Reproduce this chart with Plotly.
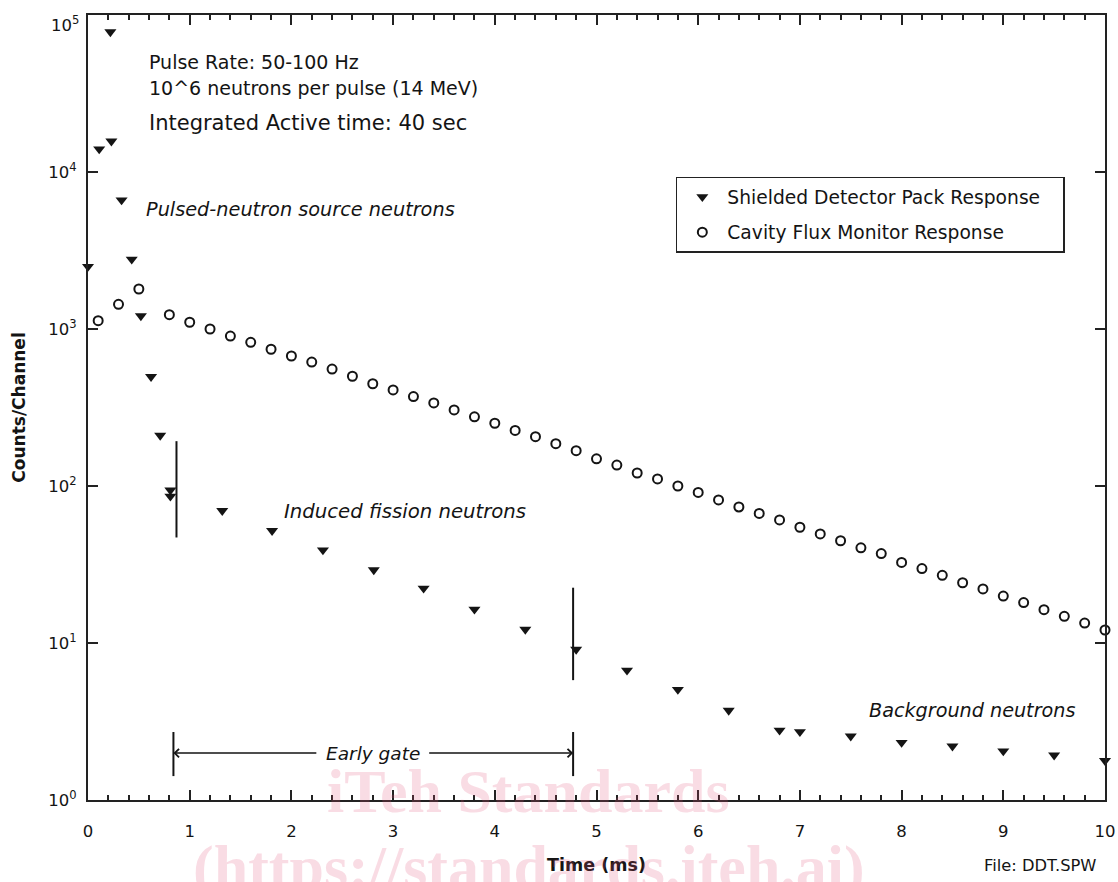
import math
import plotly.graph_objects as go

# ---------------- data ----------------
# Shielded Detector Pack Response (filled down-triangles)
det_time = [0.0, 0.11, 0.22, 0.23, 0.33, 0.43, 0.52, 0.62, 0.71, 0.81, 0.81,
            1.32, 1.81, 2.31, 2.81, 3.30, 3.80, 4.30, 4.80, 5.30, 5.80, 6.30,
            6.80, 7.00, 7.50, 8.00, 8.50, 9.00, 9.50, 10.0]
det_counts = [2500, 14000, 78000, 15700, 6630, 2780, 1210, 497, 210, 94, 86,
              69.6, 51.9, 39.1, 29.2, 22.3, 16.4, 12.2, 9.1, 6.7, 5.05, 3.72,
              2.78, 2.72, 2.55, 2.32, 2.20, 2.05, 1.93, 1.78]

# Cavity Flux Monitor Response (open circles)
flux_time = [0.1, 0.3, 0.5, 0.8, 1.0, 1.2, 1.4, 1.6, 1.8, 2.0, 2.2, 2.4, 2.6,
             2.8, 3.0, 3.2, 3.4, 3.6, 3.8, 4.0, 4.2, 4.4, 4.6, 4.8, 5.0, 5.2,
             5.4, 5.6, 5.8, 6.0, 6.2, 6.4, 6.6, 6.8, 7.0, 7.2, 7.4, 7.6, 7.8,
             8.0, 8.2, 8.4, 8.6, 8.8, 9.0, 9.2, 9.4, 9.6, 9.8, 10.0]
flux_counts = [1130, 1436, 1798, 1233, 1104, 1000, 902, 823, 743, 673, 616,
               556, 500, 448, 409, 371, 338, 305, 276, 251, 226, 206, 186, 168,
               149, 136, 121, 111, 100, 91, 81.5, 73.5, 66.9, 60.8, 54.6, 49.5,
               44.8, 40.4, 37.1, 32.6, 29.8, 27.0, 24.2, 22.1, 19.9, 18.1, 16.3,
               14.8, 13.4, 12.1]

series_names = ["Shielded Detector Pack Response", "Cavity Flux Monitor Response"]

y_tickvals = [1, 10, 100, 1000, 10000, 100000]
y_ticktext = ["10<sup>0</sup>", "10<sup>1</sup>", "10<sup>2</sup>",
              "10<sup>3</sup>", "10<sup>4</sup>", "10<sup>5</sup>"]

# gate markers (time in ms, counts)
gate_start, gate_end = 0.85, 4.77
gate_bar_low, gate_bar_high = 1.42, 2.71
gate_arrow_level = 1.99

FONT = "DejaVu Sans"
INK = "#141414"
NBSP = "\u00a0"
TICK_SIZE = 16.5

fig = go.Figure()

fig.add_trace(go.Scatter(
    x=det_time, y=det_counts, mode="markers",
    name=series_names[0] + NBSP * 3,
    legendgroup="det", cliponaxis=False, hoverinfo="x+y",
    marker=dict(symbol="triangle-down", size=10.5, color=INK, line=dict(width=0)),
))
fig.add_trace(go.Scatter(
    x=flux_time, y=flux_counts, mode="markers", name=series_names[1],
    legendgroup="flux", cliponaxis=False, hoverinfo="x+y",
    marker=dict(symbol="circle-open", size=9, color=INK, line=dict(width=2, color=INK)),
))

# vertical gate lines
gate_lines = [
    (0.87, 47, 193),
    (gate_end, 5.8, 22.5),
    (gate_start - 0.01, gate_bar_low, gate_bar_high),
    (gate_end, gate_bar_low, gate_bar_high),
]
for gx, gy0, gy1 in gate_lines:
    fig.add_trace(go.Scatter(
        x=[gx, gx], y=[gy0, gy1], mode="lines", showlegend=False,
        hoverinfo="skip", line=dict(color=INK, width=2),
    ))

L = math.log10
annotations = []

# watermark
annotations.append(dict(
    text="<b>iTeh Standards</b>", xref="paper", yref="paper", x=0.433, y=0.012,
    xanchor="center", yanchor="middle", showarrow=False,
    font=dict(family="Liberation Serif", size=62, color="rgba(225,80,120,0.2)"),
))
annotations.append(dict(
    text="<b>(https://standards.iteh.ai)</b>", xref="paper", yref="paper",
    x=0.434, y=-0.086, xanchor="center", yanchor="middle", showarrow=False,
    font=dict(family="Liberation Serif", size=62, color="rgba(225,80,120,0.2)"),
))

# top decade label sits just below its tick (as in the reference), so it is
# written next to the axis instead of as a centred tick label
annotations.append(dict(
    text=y_ticktext[-1], xref="paper", yref="y", x=0, y=L(y_tickvals[-1]),
    xanchor="right", yanchor="middle", xshift=-7, yshift=-9, showarrow=False,
    font=dict(family=FONT, size=TICK_SIZE, color=INK),
))

# text notes
def note(text, x, yval, size, italic=False, xanchor="left"):
    if italic:
        text = "<i>" + text + "</i>"
    annotations.append(dict(
        text=text, x=x, y=L(yval), xref="x", yref="y", xanchor=xanchor,
        yanchor="middle", showarrow=False,
        font=dict(family=FONT, size=size, color=INK),
    ))

note("Pulse Rate: 50-100 Hz", 0.58, 50500, 19)
note("10^6 neutrons per pulse (14 MeV)", 0.58, 34400, 19)
note("Integrated Active time: 40 sec", 0.58, 20400, 21)
note("Pulsed-neutron source neutrons", 0.55, 5730, 19.3, italic=True)
note("Induced fission neutrons", 1.91, 68.6, 19.7, italic=True)
note("Background neutrons", 7.66, 3.69, 19.2, italic=True)
note("Early gate", 2.80, gate_arrow_level, 18.5, italic=True, xanchor="center")

# early gate arrows
for head, tail in [(gate_start - 0.01, 2.26), (gate_end, 3.34)]:
    annotations.append(dict(
        x=head, y=L(gate_arrow_level), ax=tail, ay=L(gate_arrow_level),
        xref="x", yref="y", axref="x", ayref="y", text="", showarrow=True,
        arrowhead=4, arrowsize=1.1, arrowwidth=1.5, arrowcolor=INK, standoff=0,
    ))

annotations.append(dict(
    text="File: DDT.SPW", xref="paper", yref="paper", x=0.993, y=-0.084,
    xanchor="right", yanchor="middle", showarrow=False,
    font=dict(family=FONT, size=16.3, color=INK),
))

axis_common = dict(
    showline=True, linewidth=2, linecolor="#222", mirror="ticks",
    ticks="inside", ticklen=10, tickwidth=2, tickcolor="#222",
    showgrid=False, zeroline=False, automargin=False,
)

fig.update_xaxes(
    range=[0, 10], tick0=0, dtick=1,
    minor=dict(dtick=0.2, ticks="inside", ticklen=5, tickwidth=1.5,
               tickcolor="#222", showgrid=False),
    tickfont=dict(family=FONT, size=TICK_SIZE, color=INK), ticklabelstandoff=15,
    ticklabeloverflow="allow",
    title=dict(text="<b>Time (ms)</b>", font=dict(family=FONT, size=17.5, color=INK),
               standoff=19),
    **axis_common,
)
fig.update_yaxes(
    type="log", range=[0, 5], tickmode="array", tickvals=y_tickvals,
    ticktext=y_ticktext[:-1] + [""],
    tickfont=dict(family=FONT, size=TICK_SIZE, color=INK),
    ticklabelstandoff=6,
    title=dict(text="<b>Counts/Channel</b>", font=dict(family=FONT, size=17, color=INK),
               standoff=18),
    **axis_common,
)

fig.update_layout(
    width=1118, height=882,
    margin=dict(l=88, r=13, t=15, b=82),
    paper_bgcolor="white", plot_bgcolor="white",
    font=dict(family=FONT, color=INK),
    showlegend=True,
    legend=dict(
        x=0.578, y=0.794, xanchor="left", yanchor="top",
        bordercolor="#222", borderwidth=1.5, bgcolor="white",
        font=dict(family=FONT, size=18.7, color=INK),
        traceorder="grouped", tracegroupgap=8, itemwidth=40,
    ),
    annotations=annotations,
)

# remove the browser's default page margin so the 1118x882 figure fills the window
fig.write_html(
    "out.html",
    config={"displayModeBar": False},
    post_script="document.body.style.margin='0';document.body.style.overflow='hidden';",
)
